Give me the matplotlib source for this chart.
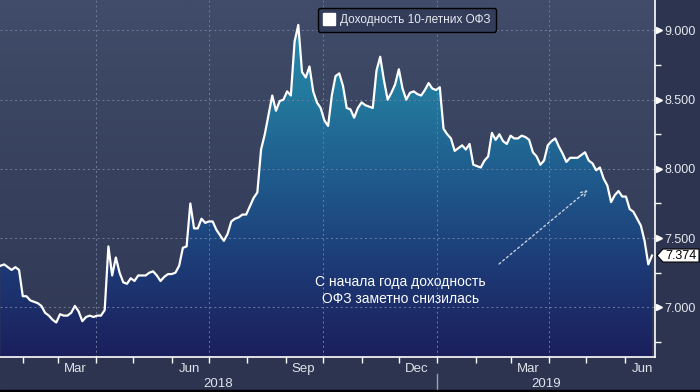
import matplotlib
matplotlib.use("Agg")
import matplotlib.pyplot as plt
import matplotlib.dates as mdates
from matplotlib.colors import LinearSegmentedColormap
from matplotlib.lines import Line2D
from matplotlib.patches import Polygon, Rectangle
import numpy as np
import pandas as pd

plt.rcParams['font.family'] = ['Liberation Sans', 'DejaVu Sans']

# 10y OFZ yield, every 3 days starting mid-Jan 2018
start_date = "2018-01-14"
yields = [
    7.30, 7.31, 7.29, 7.27, 7.29, 7.27, 7.08, 7.08, 7.05, 7.04,
    7.03, 7.01, 6.96, 6.94, 6.91, 6.89, 6.95, 6.94, 6.94, 6.96,
    7.01, 6.97, 6.90, 6.93, 6.94, 6.93, 6.94, 6.94, 6.98, 7.44,
    7.23, 7.36, 7.25, 7.18, 7.17, 7.21, 7.19, 7.23, 7.23, 7.23,
    7.25, 7.26, 7.23, 7.19, 7.22, 7.24, 7.24, 7.25, 7.30, 7.43,
    7.44, 7.75, 7.57, 7.57, 7.64, 7.61, 7.62, 7.62, 7.56, 7.52,
    7.48, 7.53, 7.62, 7.64, 7.65, 7.67, 7.67, 7.73, 7.79, 7.83,
    8.14, 8.25, 8.39, 8.53, 8.42, 8.49, 8.50, 8.56, 8.53, 8.92,
    9.04, 8.70, 8.66, 8.74, 8.56, 8.48, 8.44, 8.35, 8.31, 8.53,
    8.67, 8.69, 8.60, 8.44, 8.43, 8.37, 8.44, 8.48, 8.46, 8.45,
    8.44, 8.71, 8.81, 8.64, 8.50, 8.55, 8.61, 8.72, 8.58, 8.50,
    8.55, 8.56, 8.54, 8.53, 8.57, 8.62, 8.58, 8.57, 8.59, 8.29,
    8.25, 8.22, 8.13, 8.15, 8.17, 8.14, 8.18, 8.03, 8.02, 8.01,
    8.06, 8.09, 8.26, 8.21, 8.25, 8.20, 8.18, 8.24, 8.22, 8.22,
    8.24, 8.23, 8.21, 8.12, 8.09, 8.03, 8.06, 8.17, 8.20, 8.22,
    8.16, 8.11, 8.05, 8.08, 8.08, 8.08, 8.10, 8.12, 8.06, 8.04,
    7.99, 8.01, 7.93, 7.88, 7.76, 7.81, 7.84, 7.80, 7.80, 7.71,
    7.69, 7.64, 7.59, 7.48, 7.31, 7.374,
]
last_value = 7.374
series_label = "Доходность 10-летних ОФЗ"
note_text = "С начала года доходность\nОФЗ заметно снизилась"

y_major = [7.0, 7.5, 8.0, 8.5, 9.0]
y_minor = [6.75, 7.25, 7.75, 8.25, 8.75]
grid_dates = ["2018-04-01", "2018-07-01", "2018-10-01", "2019-01-01", "2019-04-01"]
month_label_dates = ["2018-03-15", "2018-06-15", "2018-09-15", "2018-12-15", "2019-03-15", "2019-06-15"]
month_labels = ["Mar", "Jun", "Sep", "Dec", "Mar", "Jun"]
year_label_dates = ["2018-07-08", "2019-03-30"]
year_labels = ["2018", "2019"]

dates = pd.date_range(start_date, periods=len(yields), freq="3D")
x = mdates.date2num(dates)
d2n = lambda s: mdates.date2num(pd.Timestamp(s))

x0 = d2n("2018-01-14") - 0.35
x1 = d2n("2019-06-25") + 0.4
y0, y1 = 6.641, 9.220

fig = plt.figure(figsize=(7, 3.92), dpi=100, facecolor='#2c3450')
ax = fig.add_axes([0, 35 / 392, 655 / 700, 357 / 392])

# background gradient
grad = np.linspace(0, 1, 256).reshape(-1, 1)
bg_cmap = LinearSegmentedColormap.from_list('bg', ['#2f3753', '#404c69'])
ax.imshow(grad, extent=[x0, x1, y0, y1], origin='lower', aspect='auto',
          cmap=bg_cmap, zorder=0)

# gradient area under the curve
poly = ax.fill_between(x, yields, y0, facecolor='none', edgecolor='none')
fill_cmap = LinearSegmentedColormap.from_list(
    'fill', ['#1a1f5c', '#1d3a76', '#1f5a8c', '#237b9f', '#2a8fae'])
im = ax.imshow(grad, extent=[x0, x1, y0, y1], origin='lower', aspect='auto',
               cmap=fill_cmap, zorder=1)
im.set_clip_path(poly.get_paths()[0], transform=ax.transData)

# dotted grid
for v in y_major:
    ax.axhline(v, color='#6f7d99', lw=0.7, ls=(0, (2, 3)), zorder=2)
for d in grid_dates:
    ax.axvline(d2n(d), color='#6f7d99', lw=0.7, ls=(0, (2, 3)), zorder=2)

ax.plot(x, yields, color='white', lw=1.6, zorder=3)

ax.set_xlim(x0, x1)
ax.set_ylim(y0, y1)

for s in ['left', 'top']:
    ax.spines[s].set_visible(False)
for s in ['right', 'bottom']:
    ax.spines[s].set_color('white')
    ax.spines[s].set_linewidth(1.2)

# y axis on the right
ax.yaxis.tick_right()
ax.set_yticks(y_major)
ax.set_yticklabels([f"{v:.3f}" for v in y_major])
ax.set_yticks(y_minor, minor=True)
ax.tick_params(axis='y', which='major', length=0, pad=7, labelsize=9,
               labelcolor='#e6e8ee')
ax.tick_params(axis='y', which='minor', length=4, width=1, color='white')
ax.plot([1.006] * len(y_major), y_major, transform=ax.get_yaxis_transform(),
        marker='>', ms=5, color='white', ls='none', clip_on=False)

# x axis: month ticks, labels mid-month, years below
ax.xaxis.set_major_locator(mdates.MonthLocator())
ax.tick_params(axis='x', which='major', length=4, width=1, color='white',
               labelbottom=False)
for d, name in zip(month_label_dates, month_labels):
    ax.text(d2n(d), -0.033, name, transform=ax.get_xaxis_transform(),
            ha='center', va='center', color='#e0e3ea', fontsize=9.5)
for d, name in zip(year_label_dates, year_labels):
    ax.text(d2n(d), -0.075, name, transform=ax.get_xaxis_transform(),
            ha='center', va='center', color='#e0e3ea', fontsize=9.5)
ax.plot([d2n("2019-01-01")] * 2, [-0.047, -0.1], transform=ax.get_xaxis_transform(),
        color='#9aa3b5', lw=1, clip_on=False)

# legend
handle = Line2D([], [], marker='s', color='white', ls='none', ms=8)
leg = ax.legend([handle], [series_label], loc='upper center',
                bbox_to_anchor=(407 / 655, 1 - 2 / 357), frameon=True,
                fancybox=True, facecolor='#333d5a', edgecolor='black',
                framealpha=1, fontsize=8.5, labelcolor='#e8eaf0',
                handlelength=1, handletextpad=0.4, borderpad=0.5)
leg.set_zorder(10)

# annotation
ax.annotate('', xy=(d2n("2019-05-04"), 7.86), xytext=(d2n("2019-02-18"), 7.30),
            arrowprops=dict(arrowstyle='->', color='#c5cede', lw=1,
                            linestyle=(0, (1.5, 2))), zorder=4)
ax.text(d2n("2018-12-02"), 7.12, note_text, ha='center', va='center',
        color='white', fontsize=10, linespacing=1.3, zorder=4)

# last value tag
h = 0.047
tag = Polygon([(1 + 2 / 655, last_value), (1 + 8 / 655, last_value + h),
               (1 + 44 / 655, last_value + h), (1 + 44 / 655, last_value - h),
               (1 + 8 / 655, last_value - h)], closed=True,
              transform=ax.get_yaxis_transform(), facecolor='white',
              edgecolor='black', lw=0.8, clip_on=False, zorder=5)
ax.add_patch(tag)
ax.text(1 + 26 / 655, last_value, f"{last_value:.3f}", transform=ax.get_yaxis_transform(),
        ha='center', va='center', color='black', fontsize=9, zorder=6)

fig.patches.append(Rectangle((0, 0), 1, 2 / 392, transform=fig.transFigure,
                             color='black'))

fig.savefig('out.png', dpi=100, facecolor=fig.get_facecolor())
